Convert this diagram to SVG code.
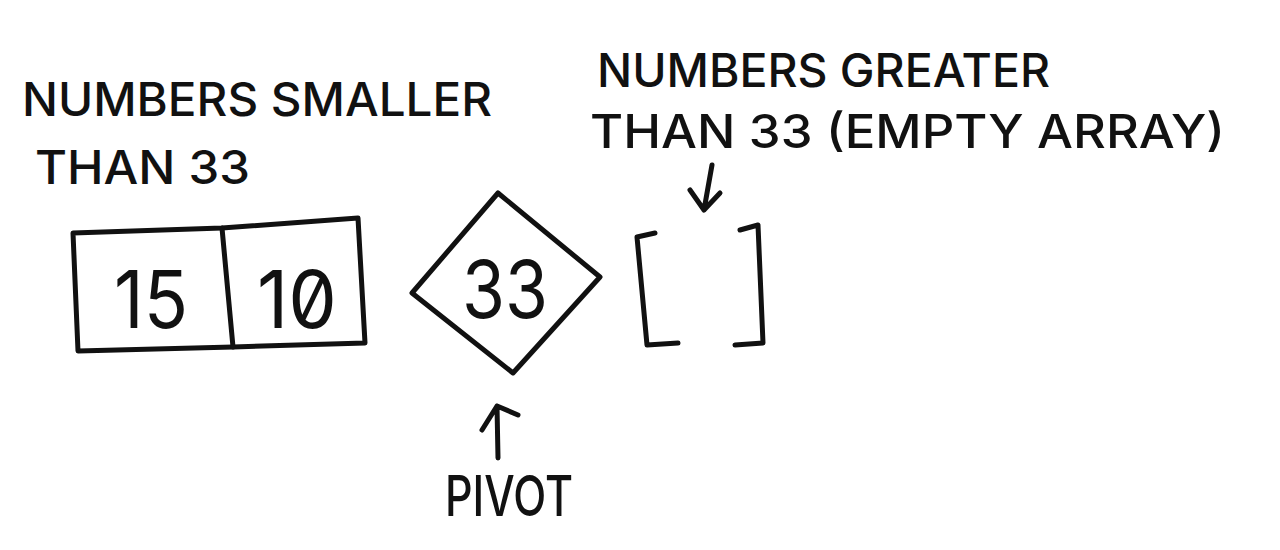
<svg xmlns="http://www.w3.org/2000/svg" width="1280" height="550" viewBox="0 0 1280 550">
<defs>
<style>
.ink{fill:none;stroke:#111;stroke-width:5;stroke-linecap:round;stroke-linejoin:round}
.lbl{font-family:Inter,"Liberation Sans",sans-serif;font-weight:500;fill:#111;font-size:46px}
.num{font-family:Inter,"Liberation Sans",sans-serif;font-weight:400;fill:#111;font-size:80px;font-feature-settings:"zero" 1;font-variant-numeric:slashed-zero}
</style>
</defs>
<rect width="1280" height="550" fill="#fff"/>
<g id="label-smaller">
<text class="lbl" x="22" y="116" textLength="470" lengthAdjust="spacingAndGlyphs">NUMBERS SMALLER</text>
<text class="lbl" x="35" y="184" textLength="215" lengthAdjust="spacingAndGlyphs">THAN 33</text>
</g>
<g id="label-greater">
<text class="lbl" x="597" y="87" textLength="453" lengthAdjust="spacingAndGlyphs">NUMBERS GREATER</text>
<text class="lbl" x="590" y="148" textLength="635" lengthAdjust="spacingAndGlyphs">THAN 33 (EMPTY ARRAY)</text>
</g>
<g id="array-smaller">
<path class="ink" d="M73,233 L222,228 L358,218 L365,343 L233,347 L78,351 Z"/>
<path class="ink" d="M222,228 L233,347"/>
<text class="num" x="151" y="328" text-anchor="middle" textLength="74" lengthAdjust="spacingAndGlyphs">15</text>
<text class="num" x="297" y="328" text-anchor="middle" textLength="80" lengthAdjust="spacingAndGlyphs">10</text>
</g>
<g id="pivot">
<path class="ink" d="M498,193 L600,277 L513,373 L412,293 Z"/>
<text class="num" x="505" y="318" text-anchor="middle" textLength="86" lengthAdjust="spacingAndGlyphs">33</text>
</g>
<g id="array-greater">
<path class="ink" d="M655,233 L637,237 L647,345 L678,343"/>
<path class="ink" d="M740,230 L758,225 L763,343 L735,345"/>
</g>
<g id="connectors">
<path class="ink" d="M712,165 L704,210 M690,190 L704,210 L720,193"/>
<path class="ink" d="M498,458 L497,406 M482,430 L497,406 L518,415"/>
</g>
<g id="label-pivot">
<text class="lbl" x="445" y="516" textLength="128" lengthAdjust="spacingAndGlyphs" style="font-size:56px">PIVOT</text>
</g>
</svg>
